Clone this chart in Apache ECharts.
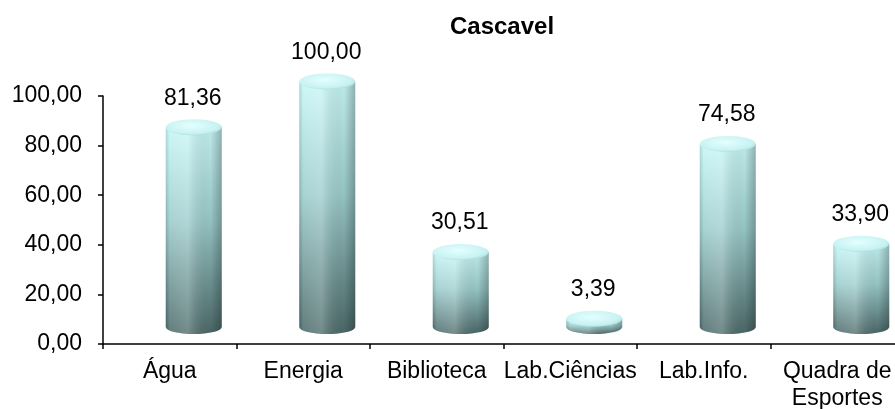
<!DOCTYPE html>
<html>
<head>
<meta charset="utf-8">
<script src="https://cdn.jsdelivr.net/npm/echarts@6/dist/echarts.min.js"></script>
<style>
html,body{margin:0;padding:0;background:#fff;}
#chart{width:895px;height:409px;}
</style>
</head>
<body>
<div id="chart"></div>
<script>
const titleText = 'Cascavel';
const categories = ['Água', 'Energia', 'Biblioteca', 'Lab.Ciências', 'Lab.Info.', 'Quadra de\nEsportes'];
const values = [81.36, 100.00, 30.51, 3.39, 74.58, 33.90];
const yTicks = [0, 20, 40, 60, 80, 100];

const fmt = v => Number(v).toFixed(2).replace('.', ',');
const FONT = 'Liberation Sans';

const chart = echarts.init(document.getElementById('chart'), null, {renderer: 'canvas'});

function renderCylinder(params, api) {
  const idx = api.value(0);
  const val = api.value(1);
  const base = api.coord([idx, 0]);
  const top = api.coord([idx, val]);
  const rx = 28, ryTop = 8, ryBot = 7;
  const cx = base[0] + 24;
  const bottomY = base[1] - 17;
  const topY = bottomY - (base[1] - top[1]) * 0.99;
  const bodyFill = new echarts.graphic.LinearGradient(0, 0, 0, 1, [
    {offset: 0, color: '#c8f6f6'},
    {offset: 0.45, color: '#9ccccc'},
    {offset: 1, color: '#4d6a6a'}
  ]);
  const shade = new echarts.graphic.LinearGradient(0, 0, 1, 0, [
    {offset: 0, color: 'rgba(0,0,0,0.12)'},
    {offset: 0.07, color: 'rgba(255,255,255,0.12)'},
    {offset: 0.4, color: 'rgba(255,255,255,0.22)'},
    {offset: 0.8, color: 'rgba(0,0,0,0.05)'},
    {offset: 1, color: 'rgba(0,0,0,0.28)'}
  ]);
  const topFill = new echarts.graphic.RadialGradient(0.45, 0.4, 0.7, [
    {offset: 0, color: '#e4ffff'},
    {offset: 0.7, color: '#c8f2f2'},
    {offset: 1, color: '#9ccfcf'}
  ]);
  const h = Math.max(bottomY - topY, 0);
  const pathData = 'M' + (cx - rx) + ' ' + topY +
    ' L' + (cx - rx) + ' ' + bottomY +
    ' A' + rx + ' ' + ryBot + ' 0 0 0 ' + (cx + rx) + ' ' + bottomY +
    ' L' + (cx + rx) + ' ' + topY + ' Z';
  const bodyShape = {pathData: pathData, x: cx - rx, y: topY, width: rx * 2, height: h + ryBot, layout: 'cover'};
  return {
    type: 'group',
    children: [
      {type: 'path', shape: bodyShape, style: {fill: bodyFill}},
      {type: 'path', shape: Object.assign({}, bodyShape), style: {fill: shade}},
      {type: 'circle', shape: {cx: 0, cy: 0, r: rx}, x: cx, y: topY, scaleY: ryTop / rx,
       style: {fill: topFill}},
      {type: 'text', x: cx - 1, y: topY - 29,
       style: {text: fmt(val), fill: '#000', font: '23px "' + FONT + '"', align: 'center', verticalAlign: 'middle'}}
    ]
  };
}

chart.setOption({
  animation: false,
  backgroundColor: '#ffffff',
  title: {
    text: titleText,
    left: 497,
    textAlign: 'center',
    top: 10,
    textStyle: {fontFamily: FONT, fontWeight: 'bold', fontSize: 24, color: '#000'}
  },
  grid: {left: 103, right: -9, top: 96, bottom: 65, containLabel: false, outerBoundsMode: 'none'},
  xAxis: {
    type: 'category',
    data: categories,
    boundaryGap: true,
    axisLine: {show: true, lineStyle: {color: '#000', width: 1.5}},
    axisTick: {show: true, length: 5, inside: false, lineStyle: {color: '#000', width: 1.5}},
    axisLabel: {interval: 0, margin: 14, color: '#000', fontFamily: FONT, fontSize: 23, lineHeight: 27}
  },
  yAxis: {
    type: 'value',
    min: yTicks[0],
    max: yTicks[yTicks.length - 1],
    interval: yTicks[1] - yTicks[0],
    splitLine: {show: false},
    axisLine: {show: true, lineStyle: {color: '#000', width: 1.5}},
    axisTick: {show: true, length: 5, lineStyle: {color: '#000', width: 1.5}},
    axisLabel: {margin: 21, color: '#000', fontFamily: FONT, fontSize: 23, formatter: v => fmt(v)}
  },
  series: [{
    type: 'custom',
    renderItem: renderCylinder,
    clip: false,
    encode: {x: 0, y: 1},
    data: values.map((v, i) => [i, v])
  }]
});
</script>
</body>
</html>
